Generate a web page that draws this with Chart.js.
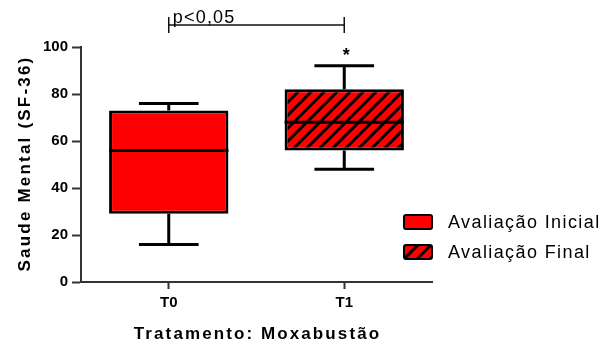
<!DOCTYPE html>
<html>
<head>
<meta charset="utf-8">
<script src="https://cdn.jsdelivr.net/npm/chart.js@4.4.1/dist/chart.umd.min.js"></script>
<style>
  html, body { margin: 0; padding: 0; background: #ffffff; }
  #wrap { width: 604px; height: 345px; position: relative; }
</style>
</head>
<body>
<div id="wrap"><canvas id="c" width="604" height="345"></canvas></div>
<script>
// ---- data ----
const categories = ['T0', 'T1'];
const seriesNames = ['Avaliação Inicial', 'Avaliação Final'];
const minVals = [16, 48];
const q1Vals = [29, 56];
const medianVals = [56, 68];
const q3Vals = [73, 82];
const maxVals = [76, 92];
const yTicks = [0, 20, 40, 60, 80, 100];
const xTitle = 'Tratamento: Moxabustão';
const yTitle = 'Saude Mental (SF-36)';
const pText = 'p<0,05';
const starText = '*';

const FONT = '"Liberation Sans", Arial, Helvetica, sans-serif';
const RED = '#ff0000';
const AXIS = '#333333';

const canvas = document.getElementById('c');
const mainCtx = canvas.getContext('2d');

function makeHatch() {
  const s = 13;
  const c = document.createElement('canvas');
  c.width = s; c.height = s;
  const g = c.getContext('2d');
  g.fillStyle = RED;
  g.fillRect(0, 0, s, s);
  g.strokeStyle = '#000';
  g.lineWidth = 3;
  g.beginPath();
  g.moveTo(-2, s + 2); g.lineTo(s + 2, -2);
  g.moveTo(-3, 3); g.lineTo(3, -3);
  g.moveTo(s - 3, s + 3); g.lineTo(s + 3, s - 3);
  g.stroke();
  return mainCtx.createPattern(c, 'repeat');
}
const hatch = makeHatch();
const fills = [RED, hatch];

const boxPlugin = {
  id: 'boxExtras',
  afterDatasetsDraw(chart) {
    const ctx = chart.ctx;
    const x = chart.scales.x, y = chart.scales.y;
    ctx.save();
    ctx.strokeStyle = '#000';
    ctx.lineWidth = 3;
    ctx.lineCap = 'butt';
    categories.forEach((cat, i) => {
      const meta = chart.getDatasetMeta(i);
      const bar = meta.data[i];
      const cx = x.getPixelForValue(i);
      const half = bar.width / 2;
      const capHalf = half / 2;
      ctx.beginPath();
      ctx.moveTo(cx, y.getPixelForValue(q3Vals[i]));
      ctx.lineTo(cx, y.getPixelForValue(maxVals[i]));
      ctx.moveTo(cx - capHalf, y.getPixelForValue(maxVals[i]));
      ctx.lineTo(cx + capHalf, y.getPixelForValue(maxVals[i]));
      ctx.moveTo(cx, y.getPixelForValue(q1Vals[i]));
      ctx.lineTo(cx, y.getPixelForValue(minVals[i]));
      ctx.moveTo(cx - capHalf, y.getPixelForValue(minVals[i]));
      ctx.lineTo(cx + capHalf, y.getPixelForValue(minVals[i]));
      ctx.moveTo(cx - half, y.getPixelForValue(medianVals[i]));
      ctx.lineTo(cx + half, y.getPixelForValue(medianVals[i]));
      ctx.stroke();
    });
    ctx.restore();
  },
  afterDraw(chart) {
    const ctx = chart.ctx;
    const x = chart.scales.x, y = chart.scales.y;
    const area = chart.chartArea;
    ctx.save();
    // significance bracket
    const x0 = x.getPixelForValue(0), x1 = x.getPixelForValue(1);
    const by = 25;
    ctx.strokeStyle = '#111';
    ctx.lineWidth = 1.5;
    ctx.beginPath();
    ctx.moveTo(x0, by); ctx.lineTo(x1, by);
    ctx.moveTo(x0, by - 8); ctx.lineTo(x0, by + 8);
    ctx.moveTo(x1, by - 8); ctx.lineTo(x1, by + 8);
    ctx.stroke();
    ctx.fillStyle = '#000';
    ctx.textAlign = 'left';
    ctx.textBaseline = 'alphabetic';
    ctx.font = '18px ' + FONT;
    ctx.letterSpacing = '1.2px';
    ctx.fillText(pText, x0 + 4, 23);
    // star
    ctx.letterSpacing = '0px';
    ctx.font = 'bold 18px ' + FONT;
    ctx.textAlign = 'center';
    ctx.fillText(starText, x1 + 2, y.getPixelForValue(maxVals[1]) - 5);
    // x title
    ctx.font = 'bold 17px ' + FONT;
    ctx.letterSpacing = '2.1px';
    ctx.textAlign = 'center';
    ctx.fillText(xTitle, (area.left + area.right) / 2 + 1, 339);
    // y title
    ctx.save();
    ctx.translate(30, (area.top + area.bottom) / 2);
    ctx.rotate(-Math.PI / 2);
    ctx.letterSpacing = '2.2px';
    ctx.fillText(yTitle, 1, 0);
    ctx.restore();
    // legend
    ctx.letterSpacing = '1.4px';
    ctx.font = '18px ' + FONT;
    ctx.textAlign = 'left';
    ctx.textBaseline = 'middle';
    const legY = [222, 252];
    seriesNames.forEach((name, i) => {
      const bx = 404, bw = 28, bh = 14;
      const byy = legY[i] - bh / 2;
      ctx.fillStyle = fills[i];
      ctx.strokeStyle = '#000';
      ctx.lineWidth = 2;
      ctx.beginPath();
      ctx.roundRect(bx, byy, bw, bh, 2);
      ctx.fill();
      ctx.stroke();
      ctx.fillStyle = '#000';
      ctx.fillText(name, 448, legY[i] + 1);
    });
    ctx.restore();
  }
};

const datasets = seriesNames.map((name, i) => ({
  label: name,
  data: categories.map((c, j) => j === i ? [q1Vals[j], q3Vals[j]] : null),
  backgroundColor: fills[i],
  borderColor: '#000',
  borderWidth: 3,
  borderSkipped: false,
  grouped: false,
  barPercentage: 0.68,
  categoryPercentage: 1.0
}));

new Chart(canvas, {
  type: 'bar',
  data: { labels: categories, datasets },
  plugins: [boxPlugin],
  options: {
    responsive: false,
    animation: false,
    devicePixelRatio: 1,
    layout: { padding: { left: 0, right: 172, top: 47, bottom: 0 } },
    plugins: { legend: { display: false }, tooltip: { enabled: false } },
    scales: {
      x: {
        type: 'category',
        offset: true,
        afterFit(s) { s.height = 63; },
        grid: { display: true, offset: false, drawOnChartArea: false, drawTicks: true, tickLength: 7, tickWidth: 2, tickColor: AXIS },
        border: { display: true, color: AXIS, width: 2 },
        ticks: { color: '#000', font: { family: FONT, size: 15, weight: 'bold' }, padding: 5 }
      },
      y: {
        min: 0, max: 100,
        afterFit(s) { s.width = 81; },
        afterBuildTicks(s) { s.ticks = yTicks.map(v => ({ value: v })); },
        grid: { display: true, drawOnChartArea: false, drawTicks: true, tickLength: 9, tickWidth: 2, tickColor: AXIS },
        border: { display: true, color: AXIS, width: 2 },
        ticks: { color: '#000', font: { family: FONT, size: 15, weight: 'bold' }, padding: 4 }
      }
    }
  }
});
</script>
</body>
</html>
